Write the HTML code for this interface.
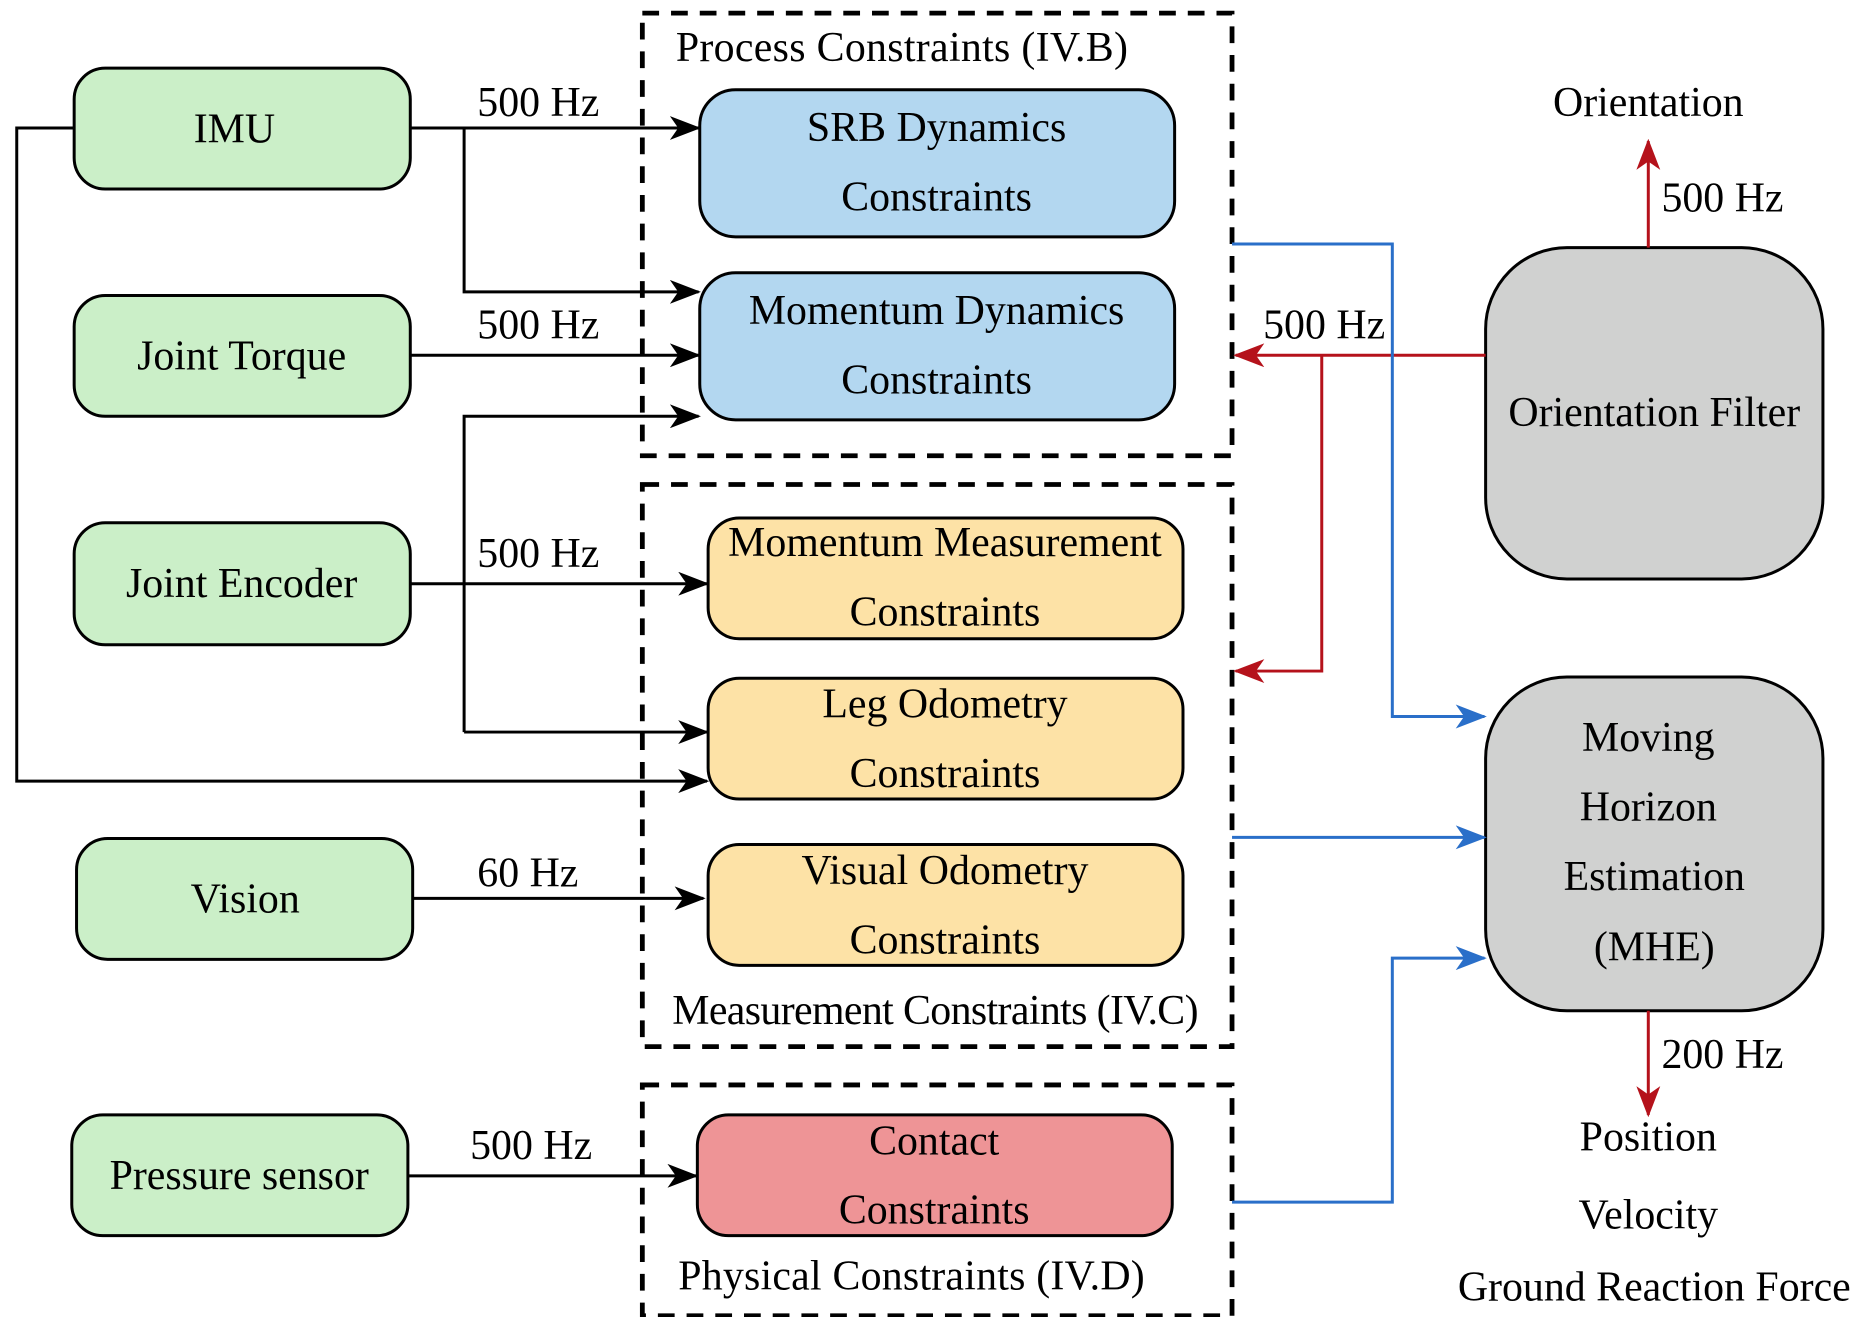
<!DOCTYPE html>
<html><head><meta charset="utf-8"><style>
html,body{margin:0;padding:0;background:#fff}
svg{display:block}
text{font-family:"Liberation Serif",serif;font-size:35px;fill:#000}
</style></head><body>
<svg width="1866" height="1317" viewBox="0 0 1560 1101" preserveAspectRatio="none" xmlns="http://www.w3.org/2000/svg">
<defs>
<marker id="ak" markerWidth="26" markerHeight="20" refX="24" refY="10" orient="auto" markerUnits="userSpaceOnUse" viewBox="0 0 26 20"><path d="M0,0 L26,10 L0,20 L7,10 z" fill="#000"/></marker>
<marker id="ar" markerWidth="26" markerHeight="20" refX="24" refY="10" orient="auto" markerUnits="userSpaceOnUse" viewBox="0 0 26 20"><path d="M0,0 L26,10 L0,20 L7,10 z" fill="#b5121b"/></marker>
<marker id="ab" markerWidth="26" markerHeight="20" refX="24" refY="10" orient="auto" markerUnits="userSpaceOnUse" viewBox="0 0 26 20"><path d="M0,0 L26,10 L0,20 L7,10 z" fill="#2a6fc9"/></marker>
</defs>
<g fill="none" stroke="#000" stroke-width="4" stroke-dasharray="14,10">
<rect x="537" y="11" width="493" height="370"/>
<rect x="537" y="405" width="493" height="470"/>
<rect x="537" y="907" width="493" height="193"/>
</g>
<g stroke="#000" stroke-width="2.5">
<rect x="62" y="57" width="281" height="101" rx="26" fill="#cbefc8"/>
<rect x="62" y="247" width="281" height="101" rx="26" fill="#cbefc8"/>
<rect x="62" y="437" width="281" height="102" rx="26" fill="#cbefc8"/>
<rect x="64" y="701" width="281" height="101" rx="26" fill="#cbefc8"/>
<rect x="60" y="932" width="281" height="101" rx="26" fill="#cbefc8"/>
<rect x="585" y="75" width="397" height="123" rx="30" fill="#b3d7f0"/>
<rect x="585" y="228" width="397" height="123" rx="30" fill="#b3d7f0"/>
<rect x="592" y="433" width="397" height="101" rx="26" fill="#fde2a6"/>
<rect x="592" y="567" width="397" height="101" rx="26" fill="#fde2a6"/>
<rect x="592" y="706" width="397" height="101" rx="26" fill="#fde2a6"/>
<rect x="583" y="932" width="397" height="101" rx="26" fill="#ee9496"/>
<rect x="1242" y="207" width="282" height="277" rx="68" fill="#d0d1d0"/>
<rect x="1242" y="566" width="282" height="279" rx="68" fill="#d0d1d0"/>
</g>
<g fill="none" stroke="#000" stroke-width="2.5">
<path d="M343,107 H584" marker-end="url(#ak)"/>
<path d="M388,107 V244 H584" marker-end="url(#ak)"/>
<path d="M62,107 H14 V653 H591" marker-end="url(#ak)"/>
<path d="M343,297 H584" marker-end="url(#ak)"/>
<path d="M343,488 H591" marker-end="url(#ak)"/>
<path d="M388,612 V348 H584" marker-end="url(#ak)"/>
<path d="M388,612 H591" marker-end="url(#ak)"/>
<path d="M345,751 H588" marker-end="url(#ak)"/>
<path d="M341,983 H582" marker-end="url(#ak)"/>
</g>
<g fill="none" stroke="#b5121b" stroke-width="2.5">
<path d="M1242,297 H1033" marker-end="url(#ar)"/>
<path d="M1105,297 V561 H1033" marker-end="url(#ar)"/>
<path d="M1378,207 V118" marker-end="url(#ar)"/>
<path d="M1378,845 V932" marker-end="url(#ar)"/>
</g>
<g fill="none" stroke="#2a6fc9" stroke-width="2.5">
<path d="M1030,204 H1164 V599 H1241" marker-end="url(#ab)"/>
<path d="M1030,700 H1241" marker-end="url(#ab)"/>
<path d="M1030,1005 H1164 V801 H1241" marker-end="url(#ab)"/>
</g>
<g text-anchor="middle">
<text x="196" y="119">IMU</text>
<text x="202" y="309">Joint Torque</text>
<text x="202" y="499">Joint Encoder</text>
<text x="205" y="763">Vision</text>
<text x="200" y="994">Pressure sensor</text>
<text x="783" y="118">SRB Dynamics</text>
<text x="783" y="176">Constraints</text>
<text x="783" y="271">Momentum Dynamics</text>
<text x="783" y="329">Constraints</text>
<text x="790" y="465">Momentum Measurement</text>
<text x="790" y="523">Constraints</text>
<text x="790" y="600">Leg Odometry</text>
<text x="790" y="658">Constraints</text>
<text x="790" y="739">Visual Odometry</text>
<text x="790" y="797">Constraints</text>
<text x="781" y="965">Contact</text>
<text x="781" y="1023">Constraints</text>
<text x="1383" y="356">Orientation Filter</text>
<text x="1378" y="628">Moving</text>
<text x="1378" y="686">Horizon</text>
<text x="1383" y="744">Estimation</text>
<text x="1383" y="803">(MHE)</text>
<text x="1378" y="97">Orientation</text>
<text x="1378" y="962">Position</text>
<text x="1378" y="1027">Velocity</text>
<text x="1383" y="1087">Ground Reaction Force</text>
</g>
<g style="font-size:34px">
<text x="399" y="97">500 Hz</text>
<text x="399" y="283">500 Hz</text>
<text x="399" y="474">500 Hz</text>
<text x="399" y="741">60 Hz</text>
<text x="393" y="969">500 Hz</text>
<text x="1056" y="283">500 Hz</text>
<text x="1389" y="177">500 Hz</text>
<text x="1389" y="893">200 Hz</text>
</g>
<g style="font-size:31px">
<text x="565" y="51" textLength="378">Process Constraints (IV.B)</text>
<text x="562" y="856" textLength="440">Measurement Constraints (IV.C)</text>
<text x="567" y="1078" textLength="390">Physical Constraints (IV.D)</text>
</g>
</svg>
</body></html>
